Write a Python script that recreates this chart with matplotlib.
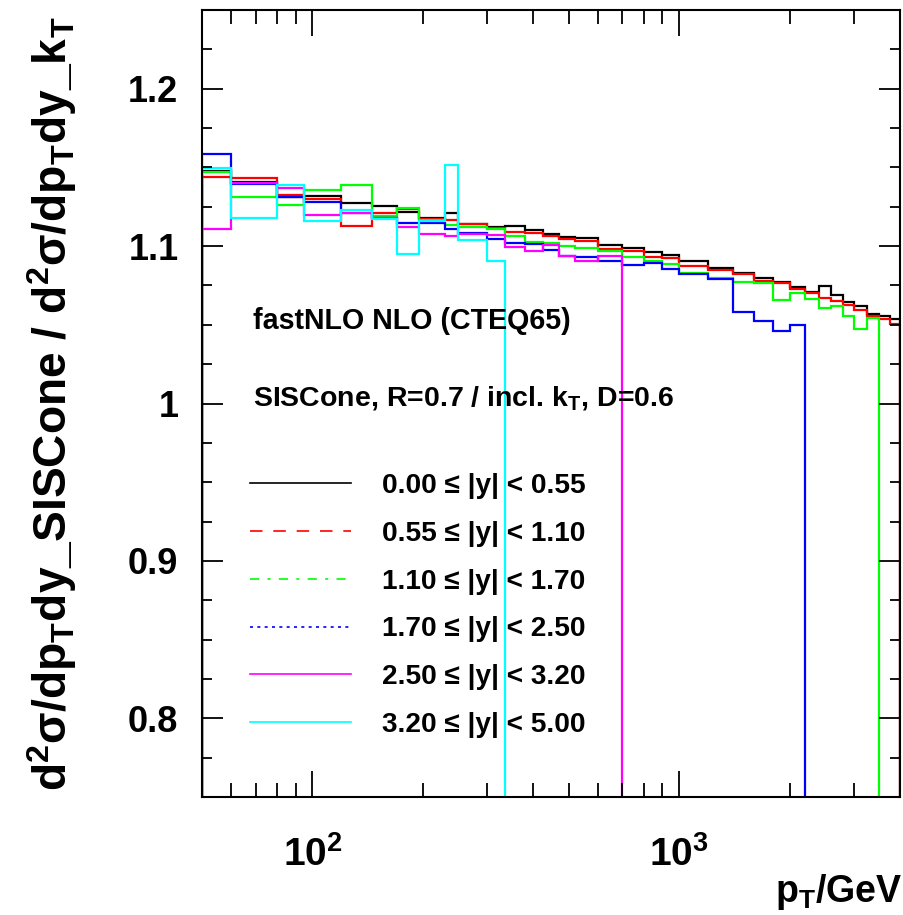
import numpy as np
import matplotlib
matplotlib.use("Agg")
import matplotlib.pyplot as plt
from matplotlib.lines import Line2D
from matplotlib.ticker import FixedLocator, LogLocator, MultipleLocator, FuncFormatter, NullFormatter

# pT bin edges (GeV)
edges = [50, 60, 80, 95, 120, 145, 170, 195, 230, 250, 300, 335, 380, 425, 470, 520,
         600, 700, 800, 900, 1000, 1200, 1400, 1600, 1800, 2000, 2200, 2400, 2600,
         2800, 3000, 3250, 3500, 3750, 4000]

# ratio SISCone / kT per rapidity bin (bins beyond the last value are empty)
r_000_055 = [1.148, 1.141, 1.131, 1.1318, 1.1271, 1.1254, 1.1218, 1.118, 1.1212, 1.1142,
             1.1123, 1.1127, 1.110, 1.1074, 1.1057, 1.1049, 1.1006, 1.0985, 1.0963, 1.0943,
             1.0905, 1.0863, 1.0831, 1.080, 1.0769, 1.0742, 1.0708, 1.0746, 1.0687, 1.0648,
             1.0620, 1.0570, 1.0555, 1.0540]
r_055_110 = [1.1441, 1.1435, 1.1322, 1.1297, 1.1125, 1.1212, 1.1233, 1.117, 1.1166, 1.1138,
             1.1117, 1.1089, 1.1085, 1.1064, 1.1043, 1.1032, 1.0979, 1.0968, 1.093, 1.0922,
             1.0873, 1.0846, 1.0824, 1.0778, 1.0767, 1.0725, 1.0699, 1.0672, 1.0652, 1.0625,
             1.0594, 1.0555, 1.0535, 1.0505]
r_110_170 = [1.147, 1.1312, 1.1259, 1.1356, 1.1388, 1.1191, 1.1244, 1.1163, 1.1132, 1.1121,
             1.1106, 1.1064, 1.1025, 1.1022, 1.100, 1.099, 1.0968, 1.0932, 1.0905, 1.0884,
             1.0831, 1.0799, 1.0771, 1.0766, 1.0655, 1.0699, 1.0661, 1.0604, 1.0619, 1.0555,
             1.0475, 1.0545]
r_170_250 = [1.1583, 1.1395, 1.1312, 1.128, 1.1212, 1.1176, 1.1144, 1.1144, 1.1106, 1.1081,
             1.1043, 1.1022, 1.1015, 1.0973, 1.0936, 1.0932, 1.0905, 1.088, 1.0895, 1.0855,
             1.082, 1.0793, 1.058, 1.0523, 1.046, 1.0496]
r_250_320 = [1.1111, 1.1399, 1.1367, 1.1197, 1.1208, 1.118, 1.1123, 1.108, 1.1064, 1.1074,
             1.107, 1.0994, 1.0968, 1.1006, 1.0936, 1.0905, 1.0936]
r_320_500 = [1.1494, 1.1176, 1.1388, 1.1159, 1.1227, 1.117, 1.0952, 1.116, 1.1513, 1.1036,
             1.0905]

series = [r_000_055, r_055_110, r_110_170, r_170_250, r_250_320, r_320_500]
labels = ["0.00 \u2264 |y| < 0.55", "0.55 \u2264 |y| < 1.10", "1.10 \u2264 |y| < 1.70",
          "1.70 \u2264 |y| < 2.50", "2.50 \u2264 |y| < 3.20", "3.20 \u2264 |y| < 5.00"]
colors = ["#000000", "#ff0000", "#00ff00", "#0000ff", "#ff00ff", "#00ffff"]
legend_styles = ["-", (0, (7.5, 6.5)), (0, (5.5, 5.0, 1.8, 5.0)), (0, (1.8, 2.6)), "-", "-"]

plt.rcParams['font.family'] = ['Liberation Sans', 'DejaVu Sans']
plt.rcParams['font.weight'] = 'bold'
plt.rcParams['axes.labelweight'] = 'bold'
plt.rcParams['mathtext.fontset'] = 'custom'
plt.rcParams['mathtext.rm'] = 'Liberation Sans:bold'
plt.rcParams['mathtext.it'] = 'Liberation Sans:bold'
plt.rcParams['mathtext.bf'] = 'Liberation Sans:bold'
plt.rcParams['mathtext.sf'] = 'Liberation Sans:bold'

fig = plt.figure(figsize=(9.04, 9.15), dpi=100)
ax = fig.add_axes([202 / 904, 118 / 915, 698 / 904, 787 / 915])

edges = np.array(edges, dtype=float)
for vals, col in zip(series, colors):
    ax.stairs(vals, edges[:len(vals) + 1], baseline=0, color=col, lw=1.6)

ax.set_xscale('log')
ax.set_xlim(50, 4000)
ax.set_ylim(0.75, 1.25)

ax.xaxis.set_major_locator(FixedLocator([100, 1000]))
ax.xaxis.set_minor_locator(LogLocator(base=10, subs=np.arange(2, 10)))
ax.xaxis.set_major_formatter(FuncFormatter(lambda v, p: r'$10^{%d}$' % round(np.log10(v))))
ax.xaxis.set_minor_formatter(NullFormatter())
ax.yaxis.set_major_locator(MultipleLocator(0.1))
ax.yaxis.set_minor_locator(MultipleLocator(0.025))
ax.yaxis.set_major_formatter(FuncFormatter(lambda v, p: '%g' % round(v, 3)))

ax.tick_params(which='both', direction='in', top=True, right=True, width=1.3)
ax.tick_params(axis='x', which='major', length=19, pad=28, labelsize=28)
ax.tick_params(axis='x', which='minor', length=10)
ax.tick_params(axis='y', which='major', length=15, pad=17, labelsize=26)
ax.tick_params(axis='y', which='minor', length=7.5)
for sp in ax.spines.values():
    sp.set_linewidth(1.5)

ax.set_xlabel('p$_{T}$/GeV', fontsize=27, loc='right')
ax.xaxis.set_label_coords(1.003, -0.095)
ax.set_ylabel(r'd$^{2}\sigma$/dp$_{T}$dy_SISCone / d$^{2}\sigma$/dp$_{T}$dy_k$_{T}$',
              fontsize=33.2, loc='top')
ax.yaxis.set_label_coords(-0.176, 0.992)

ax.text(0.073, 0.6086, 'fastNLO NLO (CTEQ65)', transform=ax.transAxes,
        fontsize=20.6, va='center_baseline')
ax.text(0.073, 0.5108, 'SISCone, R=0.7 / incl. k$_{T}$, D=0.6', transform=ax.transAxes,
        fontsize=20.5, va='center_baseline')

handles = [Line2D([], [], color=c, ls=s, lw=1.2) for c, s in zip(colors, legend_styles)]
ax.legend(handles, labels, loc='upper left', bbox_to_anchor=(0.0688, 0.412),
          frameon=False, fontsize=20.2, handlelength=3.6, handletextpad=1.1,
          labelspacing=0.78, borderpad=0, borderaxespad=0)

fig.savefig('out.png', dpi=100)
